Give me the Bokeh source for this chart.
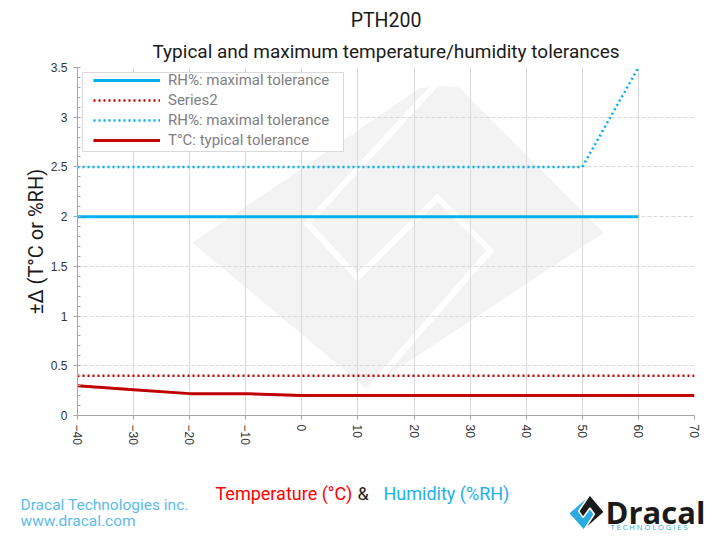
import math
from bokeh.plotting import figure
from bokeh.layouts import column
from bokeh.models import (Range1d, FixedTicker, NumeralTickFormatter, Legend,
                          LegendItem, Label, Title)
from bokeh.embed import file_html
from bokeh.resources import INLINE

# ---------------- data ----------------
temp_x = [-40, -30, -20, -10, 0, 10, 20, 30, 40, 50, 60, 70]
t_typical = [0.30, 0.26, 0.22, 0.22, 0.20, 0.20, 0.20, 0.20, 0.20, 0.20, 0.20, 0.20]
series2 = [0.4, 0.4, 0.4, 0.4, 0.4, 0.4, 0.4, 0.4, 0.4, 0.4, 0.4, 0.4]
rh_x = [-40, -30, -20, -10, 0, 10, 20, 30, 40, 50, 60]
rh_max_solid = [2.0, 2.0, 2.0, 2.0, 2.0, 2.0, 2.0, 2.0, 2.0, 2.0, 2.0]
rh_max_dotted = [2.5, 2.5, 2.5, 2.5, 2.5, 2.5, 2.5, 2.5, 2.5, 2.5, 3.5]
x_ticks = [-40, -30, -20, -10, 0, 10, 20, 30, 40, 50, 60, 70]
y_ticks = [0, 0.5, 1, 1.5, 2, 2.5, 3, 3.5]
y_minor = [i / 10 for i in range(36)]

legend_labels = ["RH%: maximal tolerance", "Series2", "RH%: maximal tolerance",
                 "T°C: typical tolerance"]
title = "PTH200"
subtitle = "Typical and maximum temperature/humidity tolerances"
y_label = "±Δ (T°C or %RH)"

# ---------------- styles ----------------
FONT = "Roboto"
BLUE = "#00b0f0"
RED = "#c00000"
GRID = "#d9d9d9"
AXIS = "#a6a6a6"

W = 715
H_MAIN, H_FOOT = 450, 81
XMIN, XMAX, YMIN, YMAX = -40, 70, 0, 3.5
FL, FR, FT, FB = 77, 694, 67, 415   # frame position (px)


def px2d(xp, yp):
    """pixel -> data coordinates (for decorations inside the frame)"""
    return (XMIN + (xp - FL) * (XMAX - XMIN) / (FR - FL),
            YMIN + (FB - yp) * (YMAX - YMIN) / (FB - FT))


p = figure(width=W, height=H_MAIN, output_backend="svg", toolbar_location=None,
           x_range=Range1d(XMIN, XMAX), y_range=Range1d(YMIN, YMAX),
           min_border_left=FL, min_border_top=FT,
           min_border_right=W - FR, min_border_bottom=H_MAIN - FB)
p.outline_line_color = None
p.background_fill_color = "white"
p.border_fill_color = "white"
p.frame_align = False

# ---------------- titles ----------------
p.add_layout(Title(text=subtitle, align="center", text_font=FONT,
                   text_font_style="normal", text_font_size="19px",
                   text_color="#1a1a1a", standoff=10), "above")
p.add_layout(Title(text=title, align="center", text_font=FONT,
                   text_font_style="normal", text_font_size="19.5px",
                   text_color="#1a1a1a", standoff=2), "above")

# ---------------- watermark ----------------
wm = {"A": (437, 82), "TL": (418, 85), "TR": (460, 84), "B": (307, 223),
      "C": (357, 277), "D": (437, 197), "E": (490, 250), "F": (366, 392),
      "L": (187, 242), "R": (608, 233)}
left_piece = [wm[k] for k in ["TL", "A", "B", "C", "D", "E", "F", "L"]]
right_piece = [wm[k] for k in ["A", "TR", "R", "F", "E", "D", "C", "B"]]
wxs, wys = [], []
for piece in (left_piece, right_piece):
    pts = [px2d(a, b) for a, b in piece]
    wxs.append([q[0] for q in pts])
    wys.append([q[1] for q in pts])
wmr = p.patches(wxs, wys, fill_color="#f3f3f3", line_color="white", line_width=6,
                line_join="round")
wmr.level = "image"

# ---------------- grids / axes ----------------
p.xgrid.ticker = FixedTicker(ticks=x_ticks)
p.ygrid.ticker = FixedTicker(ticks=y_ticks)
p.xgrid.grid_line_color = GRID
p.ygrid.grid_line_color = GRID
p.ygrid.grid_line_dash = "4 2"

p.xaxis.ticker = FixedTicker(ticks=x_ticks)
p.yaxis.ticker = FixedTicker(ticks=y_ticks, minor_ticks=y_minor)
p.yaxis.formatter = NumeralTickFormatter(format="0.[0]")
for ax in (p.xaxis[0], p.yaxis[0]):
    ax.axis_line_color = AXIS
    ax.major_tick_line_color = AXIS
    ax.minor_tick_line_color = AXIS
    ax.major_label_text_font = "Liberation Sans"
    ax.major_label_text_font_size = "12px"
    ax.major_label_text_color = "#333333"
p.xaxis.major_tick_in = 0
p.xaxis.major_tick_out = 4
p.xaxis.minor_tick_line_color = None
p.xaxis.major_label_orientation = -math.pi / 2
p.xaxis.major_label_standoff = 5
p.yaxis.major_tick_in = 0
p.yaxis.major_tick_out = 4
p.yaxis.minor_tick_in = 3
p.yaxis.minor_tick_out = 0
p.yaxis.major_label_standoff = 6
p.yaxis.axis_label = y_label
p.yaxis.axis_label_text_font = FONT
p.yaxis.axis_label_text_font_style = "normal"
p.yaxis.axis_label_text_font_size = "20px"
p.yaxis.axis_label_text_color = "#1a1a1a"
p.yaxis.axis_label_standoff = 0

# ---------------- legend box ----------------
lb_l, lb_t = px2d(82, 72)
lb_r, lb_b = px2d(343, 151)
p.quad(left=[lb_l], right=[lb_r], top=[lb_t], bottom=[lb_b], fill_color="white",
       line_color=GRID, line_width=1)

# ---------------- series ----------------
r_rh_solid = p.line(rh_x, rh_max_solid, line_color=BLUE, line_width=3)
r_series2 = p.line(temp_x, series2, line_color=RED, line_width=2.5, line_dash="2 3")
r_rh_dot = p.line(rh_x, rh_max_dotted, line_color=BLUE, line_width=2.5, line_dash="2 3")
r_t_typ = p.line(temp_x, t_typical, line_color=RED, line_width=3)

legend = Legend(items=[LegendItem(label=legend_labels[0], renderers=[r_rh_solid]),
                       LegendItem(label=legend_labels[1], renderers=[r_series2]),
                       LegendItem(label=legend_labels[2], renderers=[r_rh_dot]),
                       LegendItem(label=legend_labels[3], renderers=[r_t_typ])],
                location=(16, FB - 150), padding=0, spacing=0,
                glyph_width=67, glyph_height=20, label_height=20, label_standoff=8,
                label_text_font=FONT, label_text_font_size="15px",
                label_text_color="#808080", border_line_color=None,
                background_fill_alpha=0)
p.add_layout(legend, "center")

# ---------------- footer (texts and logo) ----------------
# a frameless figure whose data coordinates are the page pixels below the chart
foot = figure(width=W, height=H_FOOT, output_backend="svg", toolbar_location=None,
              x_range=Range1d(0, W), y_range=Range1d(H_MAIN + H_FOOT, H_MAIN),
              x_axis_location=None, y_axis_location=None,
              min_border_left=0, min_border_right=0, min_border_top=0,
              min_border_bottom=0)
foot.outline_line_color = None
foot.xgrid.visible = False
foot.ygrid.visible = False
foot.frame_align = False


def add_text(txt, xp, yp, size, color, align="left", font=FONT, style="normal"):
    foot.add_layout(Label(x=xp, y=yp, text=txt, text_font=font, text_font_size=size,
                          text_color=color, text_align=align, text_baseline="middle",
                          text_font_style=style))


add_text("Temperature (°C)", 215, 493, "18px", "#ff0000")
add_text("&", 357, 493, "18px", "#1a1a1a")
add_text("Humidity (%RH)", 383, 493, "18px", "#1fb0e8")
add_text("Dracal Technologies inc.", 20, 504, "15.5px", "#5cbde8")
add_text("www.dracal.com", 20, 520, "15.5px", "#5cbde8")
add_text("Dracal", 605, 511, "31px", "#1a1a1a", font="Open Sans", style="bold")
add_text("T  E  C  H  N  O  L  O  G  I  E  S", 610, 526, "7.5px", "#29abe2",
         font="Open Sans")

icon_shape = {"A": (0.19, 0.99), "B": (-0.43, 0.08), "C": (-0.19, -0.27), "D": (0.19, 0.25),
              "E": (0.44, -0.09), "F": (-0.15, -0.99), "L": (-1.0, -0.04), "R": (1.0, 0.02)}
icx, icy, ich = 586, 512, 18
ixs, iys = [], []
for keys in (["A", "B", "C", "D", "E", "F", "L"], ["A", "R", "F", "E", "D", "C", "B"]):
    ixs.append([icx + ich * icon_shape[k][0] for k in keys])
    iys.append([icy - ich * icon_shape[k][1] for k in keys])
foot.patches(ixs, iys, fill_color=["#29abe2", "#1a1a1a"], line_color="white",
             line_width=1.5)

layout = column(p, foot, spacing=0)
open("out.html", "w").write(file_html(layout, INLINE))
